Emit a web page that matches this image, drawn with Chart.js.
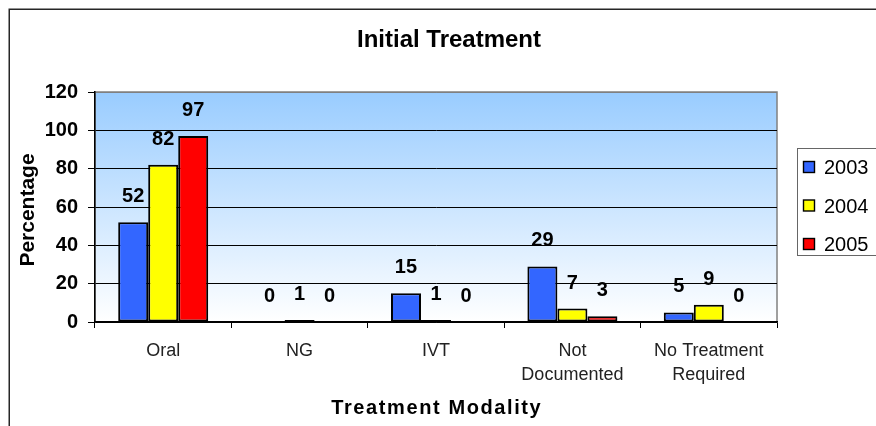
<!DOCTYPE html>
<html>
<head>
<meta charset="utf-8">
<title>Initial Treatment</title>
<style>
  html, body { margin: 0; padding: 0; background: #ffffff; }
  canvas { display: block; }
</style>
<script src="https://cdn.jsdelivr.net/npm/chart.js@4.4.1/dist/chart.umd.min.js"></script>
</head>
<body>
<canvas id="chart" width="876" height="426"></canvas>
<script>
// ---- data ----
const categories = ['Oral', 'NG', 'IVT', ['Not', 'Documented'], ['No Treatment', 'Required']];
const seriesNames = ['2003', '2004', '2005'];
const values2003 = [52, 0, 15, 29, 5];
const values2004 = [82, 1, 1, 7, 9];
const values2005 = [97, 0, 0, 3, 0];
const yMin = 0;
const yMax = 120;
const yStep = 20;
const chartTitle = 'Initial Treatment';
const xAxisTitle = 'Treatment Modality';
const yAxisTitle = 'Percentage';

// ---- styling ----
const FONT = '"Liberation Sans", Arial, Helvetica, sans-serif';
const seriesColors = ['#3366FF', '#FFFF00', '#FF0000'];

// Plot background, frame, titles, value labels and legend box
const decorations = {
  id: 'decorations',
  beforeDraw(chart) {
    const { ctx, chartArea: a, width, height } = chart;
    ctx.save();
    // outer frame (left and top edges)
    ctx.strokeStyle = '#262626';
    ctx.lineWidth = 1.5;
    ctx.beginPath();
    ctx.moveTo(9.25, height + 2);
    ctx.lineTo(9.25, 9.25);
    ctx.lineTo(width + 2, 9.25);
    ctx.stroke();
    // plot area gradient fill
    const g = ctx.createLinearGradient(0, a.top, 0, a.bottom);
    g.addColorStop(0, '#99CCFF');
    g.addColorStop(1, '#FFFFFF');
    ctx.fillStyle = g;
    ctx.fillRect(a.left, a.top, a.right - a.left, a.bottom - a.top);
    // plot area frame
    ctx.strokeStyle = '#808080';
    ctx.lineWidth = 1.5;
    ctx.strokeRect(a.left, a.top, a.right - a.left, a.bottom - a.top);
    ctx.restore();
  },
  afterDatasetsDraw(chart) {
    const { ctx } = chart;
    ctx.save();
    ctx.font = 'bold 20px ' + FONT;
    ctx.fillStyle = '#000000';
    ctx.textAlign = 'center';
    ctx.textBaseline = 'alphabetic';
    chart.data.datasets.forEach((ds, di) => {
      const meta = chart.getDatasetMeta(di);
      meta.data.forEach((bar, i) => {
        ctx.fillText(String(ds.data[i]), bar.x, bar.y - 20);
      });
    });
    ctx.restore();
  },
  afterDraw(chart) {
    const { ctx, chartArea: a } = chart;
    ctx.save();
    ctx.fillStyle = '#000000';
    // chart title
    ctx.font = 'bold 24px ' + FONT;
    ctx.textAlign = 'center';
    ctx.textBaseline = 'alphabetic';
    ctx.fillText(chartTitle, 449, 47);
    // x axis title
    ctx.font = 'bold 20px ' + FONT;
    ctx.letterSpacing = '1.6px';
    ctx.fillText(xAxisTitle, (a.left + a.right) / 2 + 0.8, 414);
    ctx.letterSpacing = '0px';
    // y axis title
    ctx.save();
    ctx.translate(28, 210);
    ctx.rotate(-Math.PI / 2);
    ctx.font = 'bold 21px ' + FONT;
    ctx.textBaseline = 'middle';
    ctx.fillText(yAxisTitle, 0, 0);
    ctx.restore();
    // legend
    const lx = 797.5, ly = 148.5, lh = 107;
    ctx.strokeStyle = '#666666';
    ctx.lineWidth = 1;
    ctx.strokeRect(lx, ly, 120, lh);
    ctx.font = '20px ' + FONT;
    ctx.textAlign = 'left';
    ctx.textBaseline = 'middle';
    chart.data.datasets.forEach((ds, di) => {
      const cy = 167.5 + di * 38.5;
      ctx.fillStyle = ds.backgroundColor;
      ctx.fillRect(803.5, cy - 6, 11, 11);
      ctx.strokeStyle = '#000000';
      ctx.lineWidth = 1.4;
      ctx.strokeRect(803.5, cy - 6, 11, 11);
      ctx.fillStyle = '#000000';
      ctx.fillText(ds.label, 824, cy + 1);
    });
    ctx.restore();
  }
};

const seriesValues = [values2003, values2004, values2005];

new Chart(document.getElementById('chart'), {
  type: 'bar',
  data: {
    labels: categories,
    datasets: seriesNames.map((name, i) => ({
      label: name,
      data: seriesValues[i],
      backgroundColor: seriesColors[i],
      borderColor: '#000000',
      borderWidth: 2,
      borderSkipped: false,
      categoryPercentage: 0.66,
      barPercentage: 1.0
    }))
  },
  options: {
    responsive: false,
    animation: false,
    devicePixelRatio: 1,
    layout: { padding: { left: 0, top: 92, right: 99, bottom: 0 } },
    plugins: {
      legend: { display: false },
      title: { display: false },
      tooltip: { enabled: false }
    },
    scales: {
      x: {
        offset: true,
        afterFit(scale) { scale.height = 104; },
        grid: {
          display: true,
          offset: true,
          drawOnChartArea: false,
          drawTicks: true,
          tickLength: 6,
          tickColor: '#000000',
          color: '#000000'
        },
        border: { display: true, color: '#000000', width: 1.5 },
        ticks: {
          color: '#222222',
          padding: 12,
          maxRotation: 0,
          autoSkip: false,
          font: { family: FONT, size: 18, lineHeight: 1.28 }
        }
      },
      y: {
        min: yMin,
        max: yMax,
        afterFit(scale) { scale.width = 95; },
        grid: {
          color: (c) => (c.tick && c.tick.value === yMax ? '#808080' : '#000000'),
          lineWidth: 1,
          tickLength: 7,
          tickColor: '#000000'
        },
        border: { display: true, color: '#000000', width: 1.5 },
        ticks: {
          stepSize: yStep,
          color: '#000000',
          padding: 10,
          font: { family: FONT, size: 20, weight: 'bold' }
        }
      }
    }
  },
  plugins: [decorations]
});
</script>
</body>
</html>
